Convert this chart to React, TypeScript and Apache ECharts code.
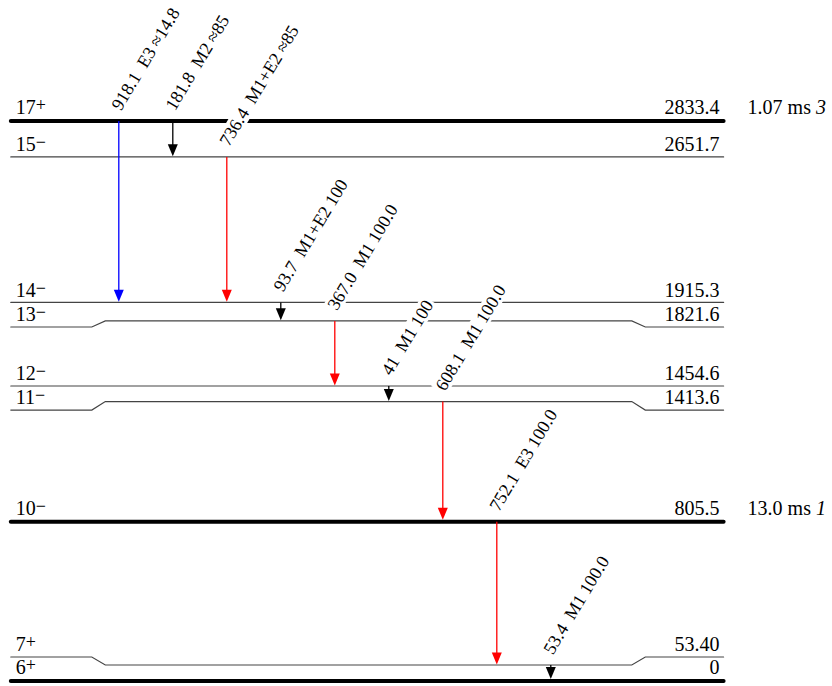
import React, { useEffect, useRef } from "react";
import * as echarts from "echarts";

// ---- Level data ----
const spins = ["17", "15", "14", "13", "12", "11", "10", "7", "6"];
const parities = ["+", "−", "−", "−", "−", "−", "−", "+", "+"];
const energyLabels = ["2833.4", "2651.7", "1915.3", "1821.6", "1454.6", "1413.6", "805.5", "53.40", "0"];
// energies (keV) at which each level line is drawn in the scheme (spread apart where crowded)
const levelPlotE = [2833.4, 2651.7, 1915.3, 1821.6, 1492.6, 1413.6, 805.5, 81, 0];
// energies at which the label ends of each level are drawn
const levelLabelE = [2833.4, 2651.7, 1915.3, 1791, 1492.6, 1371, 805.5, 121.4, 0];
const levelThick = [true, false, false, false, false, false, true, false, true];
const halfLives = ["1.07 ms", "", "", "", "", "", "13.0 ms", "", ""];
const halfLifeRefs = ["3", "", "", "", "", "", "1", "", ""];

// ---- Gamma transitions ----
const gammaEnergy = ["918.1", "181.8", "736.4", "93.7", "367.0", "41", "608.1", "752.1", "53.4"];
const gammaMult = ["E3", "M2", "M1+E2", "M1+E2", "M1", "M1", "M1", "E3", "M1"];
const gammaIntensity = ["≈14.8", "≈85", "≈85", "100", "100.0", "100", "100.0", "100.0", "100.0"];
const gammaFrom = [0, 0, 1, 2, 3, 4, 5, 6, 7];
const gammaTo = [2, 1, 2, 3, 4, 5, 6, 7, 8];
const gammaColumn = [1, 2, 3, 4, 5, 6, 7, 8, 9];
const gammaColors = ["#0000ff", "#000000", "#ff0000", "#000000", "#ff0000", "#000000", "#ff0000", "#ff0000", "#000000"];

const FONT = "'Liberation Serif', 'Times New Roman', serif";
const FS = 20;
const COL_MIN = -1.2;
const COL_MAX = -1.2 + 832 / 54;
const LEVEL_LEFT = -1;
const LEVEL_RIGHT = 12.2;
const BENDS = [0.5, 0.75, 10.5, 10.75];

export default function App() {
  const ref = useRef<HTMLDivElement>(null);
  useEffect(() => {
    document.body.style.margin = "0";
    const chart = echarts.init(ref.current!, null, { renderer: "svg" });

    const renderLevel = (params: any, api: any) => {
      const i = api.value(2);
      const thick = levelThick[i];
      const lw = thick ? 4 : 1.2;
      const midE = levelPlotE[i];
      const endE = levelLabelE[i];
      const pts =
        midE === endE
          ? [[LEVEL_LEFT, midE], [LEVEL_RIGHT, midE]]
          : [
              [LEVEL_LEFT, endE],
              [BENDS[0], endE],
              [BENDS[1], midE],
              [BENDS[2], midE],
              [BENDS[3], endE],
              [LEVEL_RIGHT, endE],
            ];
      const P = pts.map((p) => api.coord(p));
      const left = P[0];
      const right = P[P.length - 1];
      const yLab = left[1] - lw / 2 - 1;
      const children: any[] = [
        {
          type: "polyline",
          shape: { points: P },
          style: { stroke: thick ? "#000" : "#444", lineWidth: lw, fill: "none", lineCap: "round" },
        },
        {
          type: "text",
          x: left[0] + 5,
          y: yLab,
          style: {
            text: `{n|${spins[i]}}{s|${parities[i]}}`,
            align: "left",
            verticalAlign: "bottom",
            rich: {
              n: { fontSize: FS, fontFamily: FONT, fill: "#000", lineHeight: 22 },
              s: { fontSize: 18, fontFamily: FONT, fill: "#000", lineHeight: 14, verticalAlign: "top" },
            },
          },
        },
        {
          type: "text",
          x: right[0] - 4,
          y: yLab,
          style: {
            text: energyLabels[i],
            align: "right",
            verticalAlign: "bottom",
            fontSize: FS,
            fontFamily: FONT,
            fill: "#000",
            lineHeight: 22,
          },
        },
      ];
      if (halfLives[i]) {
        children.push({
          type: "text",
          x: right[0] + 24,
          y: yLab,
          style: {
            text: `{n|${halfLives[i]} }{r|${halfLifeRefs[i]}}`,
            align: "left",
            verticalAlign: "bottom",
            rich: {
              n: { fontSize: FS, fontFamily: FONT, fill: "#000", lineHeight: 22 },
              r: { fontSize: FS, fontFamily: FONT, fill: "#000", fontStyle: "italic", lineHeight: 22 },
            },
          },
        });
      }
      return { type: "group", children };
    };

    const renderGamma = (params: any, api: any) => {
      const i = api.value(3);
      const top = api.coord([api.value(0), api.value(1)]);
      const bot = api.coord([api.value(0), api.value(2)]);
      const lowerThick = levelThick[gammaTo[i]];
      const tipY = bot[1] - (lowerThick ? 2 : 0.6);
      const head = 12;
      const hw = 5;
      const color = gammaColors[i];
      const x = top[0];
      const ang = (59 * Math.PI) / 180;
      return {
        type: "group",
        children: [
          {
            type: "line",
            shape: { x1: x, y1: top[1], x2: x, y2: tipY - head + 1 },
            style: { stroke: color, lineWidth: 1.3 },
          },
          {
            type: "polygon",
            shape: { points: [[x, tipY], [x - hw, tipY - head], [x + hw, tipY - head]] },
            style: { fill: color },
          },
          {
            type: "text",
            x: x - 4,
            y: top[1] - 11,
            rotation: ang,
            z2: 10,
            style: {
              text: `${gammaEnergy[i]}\u00a0\u00a0${gammaMult[i]}\u00a0${gammaIntensity[i]}`,
              align: "left",
              verticalAlign: "middle",
              fontSize: 18,
              fontFamily: FONT,
              fill: "#000",
              backgroundColor: "#fff",
              padding: [0, 2],
            },
          },
        ],
      };
    };

    chart.setOption({
      animation: false,
      grid: { left: 0, right: 0, top: 0, bottom: 5, containLabel: false },
      xAxis: { type: "value", min: COL_MIN, max: COL_MAX, show: false },
      yAxis: { type: "value", min: 0, max: 681 / (560 / 2833.4), show: false },
      series: [
        {
          type: "custom",
          coordinateSystem: "cartesian2d",
          clip: false,
          renderItem: renderLevel,
          encode: { x: 0, y: 1 },
          data: levelPlotE.map((e, i) => [LEVEL_LEFT, e, i]),
          z: 1,
        },
        {
          type: "custom",
          coordinateSystem: "cartesian2d",
          clip: false,
          renderItem: renderGamma,
          encode: { x: 0, y: [1, 2] },
          data: gammaColumn.map((c, i) => [c, levelPlotE[gammaFrom[i]], levelPlotE[gammaTo[i]], i]),
          z: 2,
        },
      ],
    });
    return () => chart.dispose();
  }, []);
  return <div ref={ref} style={{ width: 832, height: 686 }} />;
}
